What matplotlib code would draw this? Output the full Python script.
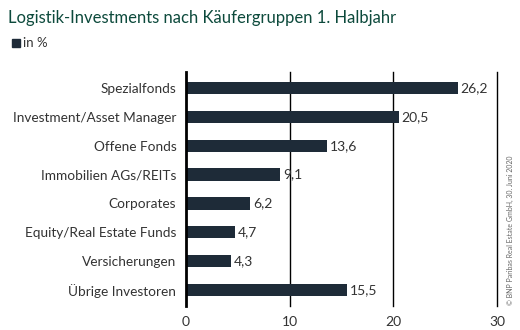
import matplotlib
matplotlib.use('Agg')
import matplotlib.pyplot as plt
from matplotlib.patches import Rectangle

plt.rcParams['font.family'] = ['Lato', 'DejaVu Sans']

# data
categories = ['Spezialfonds', 'Investment/Asset Manager', 'Offene Fonds',
              'Immobilien AGs/REITs', 'Corporates', 'Equity/Real Estate Funds',
              'Versicherungen', 'Übrige Investoren']
values = [26.2, 20.5, 13.6, 9.1, 6.2, 4.7, 4.3, 15.5]
value_labels = ['26,2', '20,5', '13,6', '9,1', '6,2', '4,7', '4,3', '15,5']
x_ticks = [0, 10, 20, 30]

bar_color = '#1e2b38'
title_color = '#0d4a3c'
text_color = '#333333'

fig = plt.figure(figsize=(5.2, 3.3), dpi=100)
ax = fig.add_axes([186 / 520, 1 - 306 / 330, (497 - 186) / 520, (306 - 72) / 330])

y = list(range(len(categories)))
ax.barh(y, values, height=0.42, color=bar_color, zorder=3)
for yi, v, lab in zip(y, values, value_labels):
    ax.text(v + 0.3, yi, lab, va='center', ha='left', fontsize=10, color=text_color)

ax.set_ylim(len(categories) - 0.45, -0.55)
ax.set_xlim(0, 30)
ax.set_yticks(y)
ax.set_yticklabels(categories, fontsize=9.8, color=text_color)
ax.set_xticks(x_ticks)
ax.set_xticklabels([str(t) for t in x_ticks], fontsize=10, color=text_color)
ax.tick_params(length=0, pad=7)
ax.tick_params(axis='x', pad=7)
for t in x_ticks[1:]:
    ax.axvline(t, color='black', lw=1.0, zorder=1, clip_on=False)
for s in ['top', 'right', 'bottom']:
    ax.spines[s].set_visible(False)
ax.spines['left'].set_linewidth(2)
ax.spines['left'].set_color('black')
ax.spines['left'].set_zorder(4)

fig.text(8 / 520, 1 - 18 / 330, 'Logistik-Investments nach Käufergruppen 1. Halbjahr',
         fontsize=12, color=title_color, va='center', ha='left')
fig.patches.append(Rectangle((12 / 520, 1 - 47 / 330), 8 / 520, 8 / 330,
                             transform=fig.transFigure, color=bar_color))
fig.text(23 / 520, 1 - 43 / 330, 'in %', fontsize=9.5, color=text_color, va='center', ha='left')
fig.text(510 / 520, 1 - 230 / 330, '© BNP Paribas Real Estate GmbH, 30. Juni 2020',
         fontsize=5, color='#666666', rotation=90, va='center', ha='center')

fig.savefig('out.png', dpi=100)
